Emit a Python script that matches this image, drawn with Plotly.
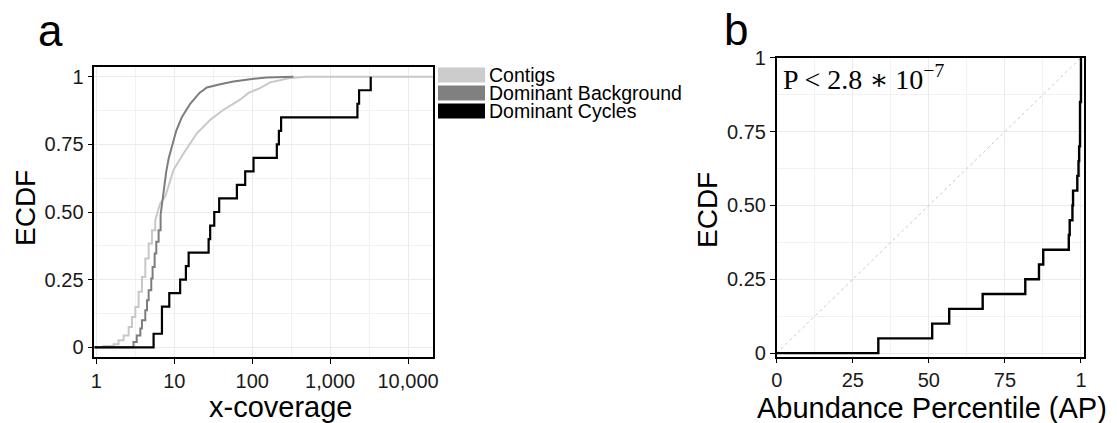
import plotly.graph_objects as go

# ---------------- data ----------------
series_names = ["Contigs", "Dominant Background", "Dominant Cycles"]
series_colors = ["#c8c8c8", "#7d7d7d", "#000000"]
legend_fill = ["#cccccc", "#808080", "#000000"]

# Dominant Cycles: x-coverage of the 20 cycles
cycles_coverage = [5.43, 6.95, 6.95, 8.63, 11.9, 14.1, 15.3, 27.6, 28.9, 32.6,
                   37.7, 63.6, 81.3, 104, 207, 220, 235, 2240, 2354, 3320]

# Dominant Background ECDF (read points): stepped lower part, smooth upper part
bg_low_x = [2.73, 3.0, 3.3, 3.67, 3.85, 4.25, 4.47, 4.69, 5.07, 5.27, 5.6, 5.88, 6.3, 6.68]
bg_low_y = [0.0, 0.02, 0.044, 0.069, 0.10, 0.137, 0.174, 0.211, 0.254, 0.297, 0.347, 0.39, 0.433, 0.489]
bg_up_x = [6.68, 7.0, 7.4, 7.9, 8.5, 9.6, 10.6, 12.5, 16.0, 21.1, 26.2, 38.9, 57.5, 94, 154, 338]
bg_up_y = [0.489, 0.54, 0.6, 0.65, 0.7, 0.75, 0.80, 0.85, 0.90, 0.94, 0.96, 0.972, 0.982, 0.991, 0.997, 1.0]

# Contigs ECDF (read points)
ct_low_x = [1.24, 1.67, 1.93, 2.24, 2.6, 2.87, 3.16, 3.49, 3.85, 4.25, 4.69, 5.18, 5.7]
ct_low_y = [0.005, 0.011, 0.026, 0.044, 0.075, 0.112, 0.149, 0.205, 0.26, 0.328, 0.384, 0.433, 0.47]
ct_up_x = [5.7, 6.6, 7.67, 9.8, 13.2, 19.5, 29, 42.9, 70, 89.7, 126, 170, 307, 500]
ct_up_y = [0.47, 0.532, 0.557, 0.656, 0.717, 0.791, 0.841, 0.878, 0.915, 0.94, 0.958, 0.979, 0.995, 1.0]

# Panel b: abundance percentile of the 20 dominant cycles
ap_values = [33.4, 51.1, 56.7, 67.7, 81.7, 86.2, 87.6, 96.0, 96.3, 97.2,
             97.4, 98.8, 99.2, 99.4, 99.7, 99.7, 99.7, 100, 100, 100]

xa_ticks = [1, 10, 100, 1000, 10000]
xa_ticktext = ["1", "10", "100", "1,000", "10,000"]
y_ticks = [0, 0.25, 0.5, 0.75, 1]
y_ticktext = ["0", "0.25", "0.50", "0.75", "1"]
xb_ticks = [0, 25, 50, 75, 100]
xb_ticktext = ["0", "25", "50", "75", "1"]
p_text = "P &lt; 2.8 ∗ 10<sup>−7</sup>"

# ---------------- layout constants ----------------
W, H = 1117, 423
XA_RANGE = [-0.026, 4.32]
YA_RANGE = [-0.037, 1.037]
XB_RANGE = [0, 101]
YB_RANGE = [-0.012, 1.0]
X_LEFT = 10 ** XA_RANGE[0]
X_RIGHT = 10 ** XA_RANGE[1]
FONT = "Liberation Sans, Arial, sans-serif"


def px_x(p):
    return p / W


def px_y(p):
    return 1 - p / H


def ecdf(vals, left):
    s = sorted(vals)
    n = len(s)
    xs = [left] + s
    ys = [0] + [(i + 1) / n for i in range(n)]
    return xs, ys


fig = go.Figure()

# Contigs
fig.add_trace(go.Scatter(x=[X_LEFT] + ct_low_x, y=[0] + ct_low_y, mode="lines",
                         line=dict(color=series_colors[0], width=2, shape="hv"),
                         xaxis="x", yaxis="y", showlegend=False))
fig.add_trace(go.Scatter(x=ct_up_x + [X_RIGHT], y=ct_up_y + [1.0], mode="lines",
                         line=dict(color=series_colors[0], width=2),
                         xaxis="x", yaxis="y", showlegend=False))
# Dominant Background
fig.add_trace(go.Scatter(x=[X_LEFT] + bg_low_x, y=[0] + bg_low_y, mode="lines",
                         line=dict(color=series_colors[1], width=2, shape="hv"),
                         xaxis="x", yaxis="y", showlegend=False))
fig.add_trace(go.Scatter(x=bg_up_x, y=bg_up_y, mode="lines",
                         line=dict(color=series_colors[1], width=2),
                         xaxis="x", yaxis="y", showlegend=False))
# Dominant Cycles
cx, cy = ecdf(cycles_coverage, X_LEFT)
fig.add_trace(go.Scatter(x=cx, y=cy, mode="lines",
                         line=dict(color=series_colors[2], width=2.2, shape="hv"),
                         xaxis="x", yaxis="y", showlegend=False))

# Panel b
fig.add_trace(go.Scatter(x=[0, 100], y=[0, 1], mode="lines",
                         line=dict(color="#c8c8c8", width=1, dash="3px,3px"),
                         xaxis="x2", yaxis="y2", showlegend=False))
bx, by = ecdf(ap_values, 0)
fig.add_trace(go.Scatter(x=bx, y=by, mode="lines",
                         line=dict(color="#000000", width=2.4, shape="hv"),
                         xaxis="x2", yaxis="y2", showlegend=False))

axis_common = dict(showline=True, mirror=True, linecolor="black", linewidth=1.5,
                   ticks="outside", ticklen=5, tickwidth=1, tickcolor="black",
                   showgrid=True, gridcolor="#ebebeb", gridwidth=1, zeroline=False,
                   automargin=False,
                   tickfont=dict(size=20, color="#1a1a1a", family=FONT))

fig.update_layout(
    width=W, height=H,
    margin=dict(l=0, r=0, t=0, b=0, pad=0),
    paper_bgcolor="white", plot_bgcolor="white",
    xaxis=dict(type="log", range=XA_RANGE, domain=[px_x(94.3), px_x(433)], anchor="y",
               tickvals=xa_ticks, ticktext=xa_ticktext,
               minor=dict(tickvals=[10 ** 0.5, 10 ** 1.5, 10 ** 2.5, 10 ** 3.5],
                          showgrid=True, gridcolor="#f2f2f2", ticks=""),
               **axis_common),
    yaxis=dict(range=YA_RANGE, domain=[px_y(357.3), px_y(66.7)], anchor="x",
               tickvals=y_ticks, ticktext=y_ticktext,
               minor=dict(tickvals=[0.125, 0.375, 0.625, 0.875],
                          showgrid=True, gridcolor="#f2f2f2", ticks=""),
               **axis_common),
    xaxis2=dict(range=XB_RANGE, domain=[px_x(776.7), px_x(1084)], anchor="y2",
                tickvals=xb_ticks, ticktext=xb_ticktext,
                minor=dict(tickvals=[12.5, 37.5, 62.5, 87.5],
                           showgrid=True, gridcolor="#f2f2f2", ticks=""),
                **axis_common),
    yaxis2=dict(range=YB_RANGE, domain=[px_y(356.7), px_y(57.7)], anchor="x2",
                tickvals=y_ticks, ticktext=y_ticktext,
                minor=dict(tickvals=[0.125, 0.375, 0.625, 0.875],
                           showgrid=True, gridcolor="#f2f2f2", ticks=""),
                **axis_common),
)

ann = []
# panel letters
ann.append(dict(text="a", x=px_x(36), y=px_y(31), xref="paper", yref="paper",
                xanchor="left", yanchor="middle", showarrow=False,
                font=dict(size=44, color="black", family=FONT)))
ann.append(dict(text="b", x=px_x(722), y=px_y(30), xref="paper", yref="paper",
                xanchor="left", yanchor="middle", showarrow=False,
                font=dict(size=44, color="black", family=FONT)))
# axis titles
ann.append(dict(text="x-coverage", x=px_x(280), y=px_y(407), xref="paper", yref="paper",
                xanchor="center", yanchor="middle", showarrow=False,
                font=dict(size=29, color="black", family=FONT)))
ann.append(dict(text="Abundance Percentile (AP)", x=px_x(932), y=px_y(408), xref="paper",
                yref="paper", xanchor="center", yanchor="middle", showarrow=False,
                font=dict(size=29, color="black", family=FONT)))
ann.append(dict(text="ECDF", x=px_x(25), y=px_y(208), xref="paper", yref="paper",
                xanchor="center", yanchor="middle", textangle=-90, showarrow=False,
                font=dict(size=28, color="black", family=FONT)))
ann.append(dict(text="ECDF", x=px_x(707), y=px_y(210), xref="paper", yref="paper",
                xanchor="center", yanchor="middle", textangle=-90, showarrow=False,
                font=dict(size=28, color="black", family=FONT)))
# P-value
ann.append(dict(text=p_text, x=px_x(781), y=px_y(77), xref="paper", yref="paper",
                xanchor="left", yanchor="middle", showarrow=False,
                font=dict(size=28, color="black", family="Liberation Serif, DejaVu Serif, serif")))

# manual legend
shapes = []
key_centers = [75, 93, 111]
for name, fill, yc in zip(series_names, legend_fill, key_centers):
    shapes.append(dict(type="rect", xref="paper", yref="paper",
                       x0=px_x(438), x1=px_x(485), y0=px_y(yc + 7.5), y1=px_y(yc - 7.5),
                       fillcolor=fill, line=dict(width=0)))
    ann.append(dict(text=name, x=px_x(487), y=px_y(yc), xref="paper", yref="paper",
                    xanchor="left", yanchor="middle", showarrow=False,
                    font=dict(size=19.5, color="black", family=FONT)))

fig.update_layout(annotations=ann, shapes=shapes)
fig.write_html("out.html")
